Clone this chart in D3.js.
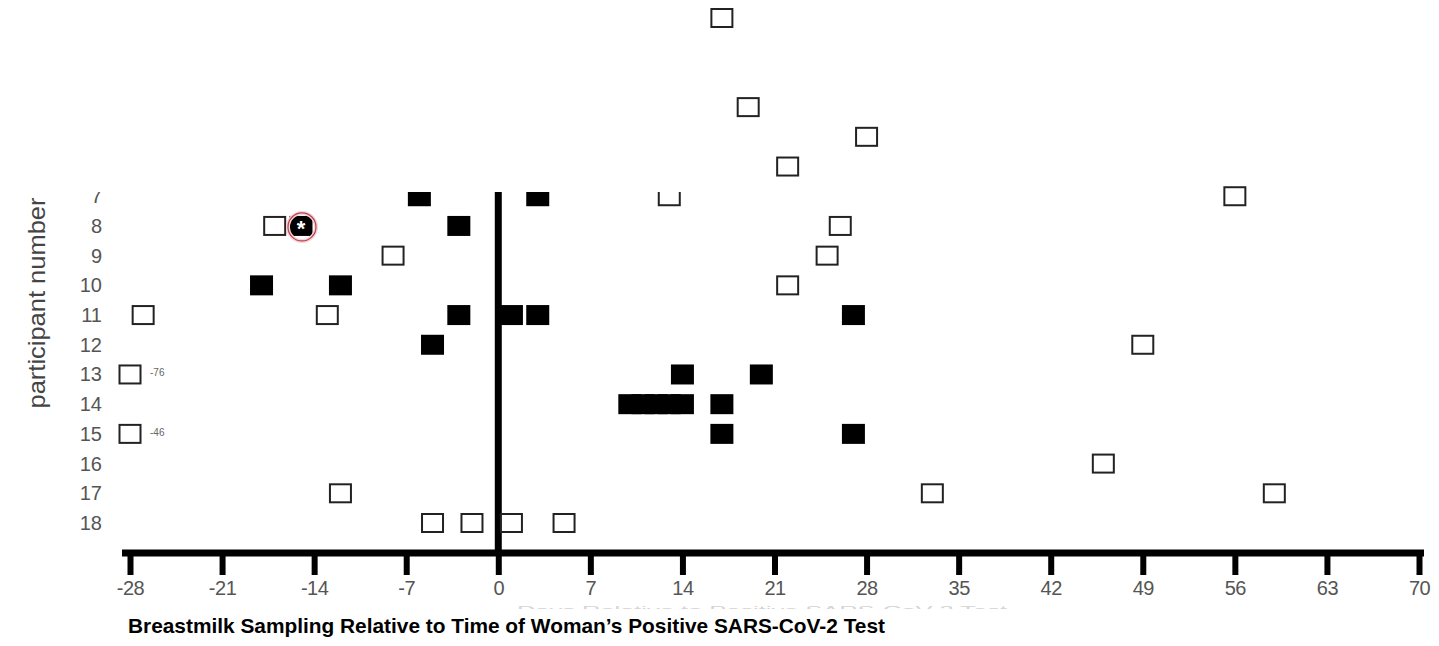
<!DOCTYPE html>
<html>
<head>
<meta charset="utf-8">
<script src="https://cdn.jsdelivr.net/npm/d3@7"></script>
<style>
  body { margin: 0; background: #fff; }
  svg { display: block; font-family: "Liberation Sans", Arial, sans-serif; }
</style>
</head>
<body>
<div id="root"></div>
<script>
// Data
const participants = [7, 8, 9, 10, 11, 12, 13, 14, 15, 16, 17, 18];
const xTicks = [-28, -21, -14, -7, 0, 7, 14, 21, 28, 35, 42, 49, 56, 63, 70];

// [participant, day] of samples without detectable RNA (open squares)
const negativeSamples = [
  [1, 17], [4, 19], [5, 28], [6, 22],
  [7, 13], [7, 56],
  [8, -17], [8, 26],
  [9, -8], [9, 25],
  [10, 22],
  [11, -27], [11, -13],
  [12, 49],
  [13, -28],
  [15, -28],
  [16, 46],
  [17, -12], [17, 33], [17, 59],
  [18, -5], [18, -2], [18, 1], [18, 5]
];

// [participant, day] of samples with detectable RNA (filled squares)
const positiveSamples = [
  [7, -6], [7, 3],
  [8, -15], [8, -3],
  [10, -18], [10, -12],
  [11, -3], [11, 1], [11, 3], [11, 27],
  [12, -5],
  [13, 14], [13, 20],
  [14, 10], [14, 11], [14, 12], [14, 13], [14, 14], [14, 17],
  [15, 17], [15, 27]
];

// samples taken before the axis start, with their real day
const offScale = [[13, -28, '-76'], [15, -28, '-46']];
const flagged = [[8, -15]];

// Layout
const width = 1439;
const height = 646;
const boxW = 21;
const boxH = 18;

const svg = d3.select('#root')
  .append('svg')
  .attr('width', width)
  .attr('height', height);

const x = d3.scaleLinear().domain([-28, 70]).range([130, 1419]);
const y = d3.scaleLinear().domain([1, 18]).range([18, 523]);

// part of the figure above row 7 is blanked out on the left
const defs = svg.append('defs');
const clip = defs.append('clipPath').attr('id', 'rows');
clip.append('rect').attr('x', 0).attr('y', 192).attr('width', width).attr('height', height - 192);
clip.append('rect').attr('x', 700).attr('y', 0).attr('width', width - 700).attr('height', 192);

const plot = svg.append('g').attr('clip-path', 'url(#rows)');

// y labels
plot.append('g')
  .selectAll('text')
  .data(participants)
  .enter()
    .append('text')
    .attr('x', 102)
    .attr('y', d => y(d) + 7)
    .attr('text-anchor', 'end')
    .attr('font-size', 20)
    .attr('fill', '#555')
    .text(d => d);

svg.append('text')
  .attr('transform', 'translate(45,303) rotate(-90)')
  .attr('text-anchor', 'middle')
  .attr('font-size', 24)
  .attr('fill', '#444')
  .attr('textLength', 211)
  .attr('lengthAdjust', 'spacingAndGlyphs')
  .text('participant number');

// zero line
plot.append('line')
  .attr('x1', x(0)).attr('x2', x(0))
  .attr('y1', 185).attr('y2', 553)
  .attr('stroke', '#000')
  .attr('stroke-width', 7);

// x axis
const xAxis = svg.append('g')
  .attr('transform', 'translate(0,553)')
  .call(d3.axisBottom(x)
    .tickValues(xTicks)
    .tickFormat(d => String(d))
    .tickSize(22)
    .tickSizeOuter(0)
    .tickPadding(6));

xAxis.select('.domain')
  .attr('stroke', '#000')
  .attr('stroke-width', 7)
  .attr('d', `M${x(-28) - 8},0H${x(70) + 5}`);
xAxis.selectAll('.tick line')
  .attr('stroke', '#000')
  .attr('stroke-width', 6)
  .attr('y1', -3);
xAxis.selectAll('.tick text')
  .attr('font-size', 20)
  .attr('fill', '#555')
  .attr('font-family', '"Liberation Sans", Arial, sans-serif')
  .attr('letter-spacing', '-0.5');

// samples
plot.append('g')
  .selectAll('rect')
  .data(negativeSamples)
  .enter()
    .append('rect')
    .attr('x', d => x(d[1]) - boxW / 2)
    .attr('y', d => y(d[0]) - boxH / 2)
    .attr('width', boxW)
    .attr('height', boxH)
    .attr('fill', '#fff')
    .attr('stroke', '#222')
    .attr('stroke-width', 2);

plot.append('g')
  .selectAll('rect')
  .data(positiveSamples)
  .enter()
    .append('rect')
    .attr('x', d => x(d[1]) - (boxW + 2) / 2)
    .attr('y', d => y(d[0]) - (boxH + 2) / 2)
    .attr('width', boxW + 2)
    .attr('height', boxH + 2)
    .attr('fill', '#000');

// off-scale day labels
plot.append('g')
  .selectAll('text')
  .data(offScale)
  .enter()
    .append('text')
    .attr('x', d => x(d[1]) + 20)
    .attr('y', d => y(d[0]) + 2)
    .attr('font-size', 10)
    .attr('fill', '#666')
    .text(d => d[2]);

// flagged sample: asterisk and red ring
const flag = plot.append('g')
  .selectAll('g')
  .data(flagged)
  .enter()
    .append('g');

flag.append('circle')
  .attr('cx', d => x(d[1]) + 1)
  .attr('cy', d => y(d[0]) + 1)
  .attr('r', 14)
  .attr('fill', 'none')
  .attr('stroke', '#f6d3d6')
  .attr('stroke-width', 4);

flag.append('circle')
  .attr('cx', d => x(d[1]) + 1)
  .attr('cy', d => y(d[0]) + 1)
  .attr('r', 14)
  .attr('fill', 'none')
  .attr('stroke', '#b84050')
  .attr('stroke-width', 1.2);

flag.append('text')
  .attr('x', d => x(d[1]))
  .attr('y', d => y(d[0]) + 10)
  .attr('text-anchor', 'middle')
  .attr('font-size', 22)
  .attr('font-weight', 'bold')
  .attr('fill', '#fff')
  .text('*');

// x axis title, mostly hidden
defs.append('clipPath').attr('id', 'xtitle')
  .append('rect').attr('x', 0).attr('y', 606).attr('width', width).attr('height', 3);

svg.append('text')
  .attr('clip-path', 'url(#xtitle)')
  .attr('x', 762)
  .attr('y', 614)
  .attr('text-anchor', 'middle')
  .attr('font-size', 11)
  .attr('textLength', 490)
  .attr('lengthAdjust', 'spacingAndGlyphs')
  .attr('fill', '#d4d4d4')
  .text('Days Relative to Positive SARS-CoV-2 Test');

// title
svg.append('text')
  .attr('x', 128)
  .attr('y', 633)
  .attr('font-size', 21)
  .attr('font-weight', 'bold')
  .attr('fill', '#000')
  .attr('textLength', 757)
  .attr('lengthAdjust', 'spacingAndGlyphs')
  .text('Breastmilk Sampling Relative to Time of Woman’s Positive SARS-CoV-2 Test');
</script>
</body>
</html>
